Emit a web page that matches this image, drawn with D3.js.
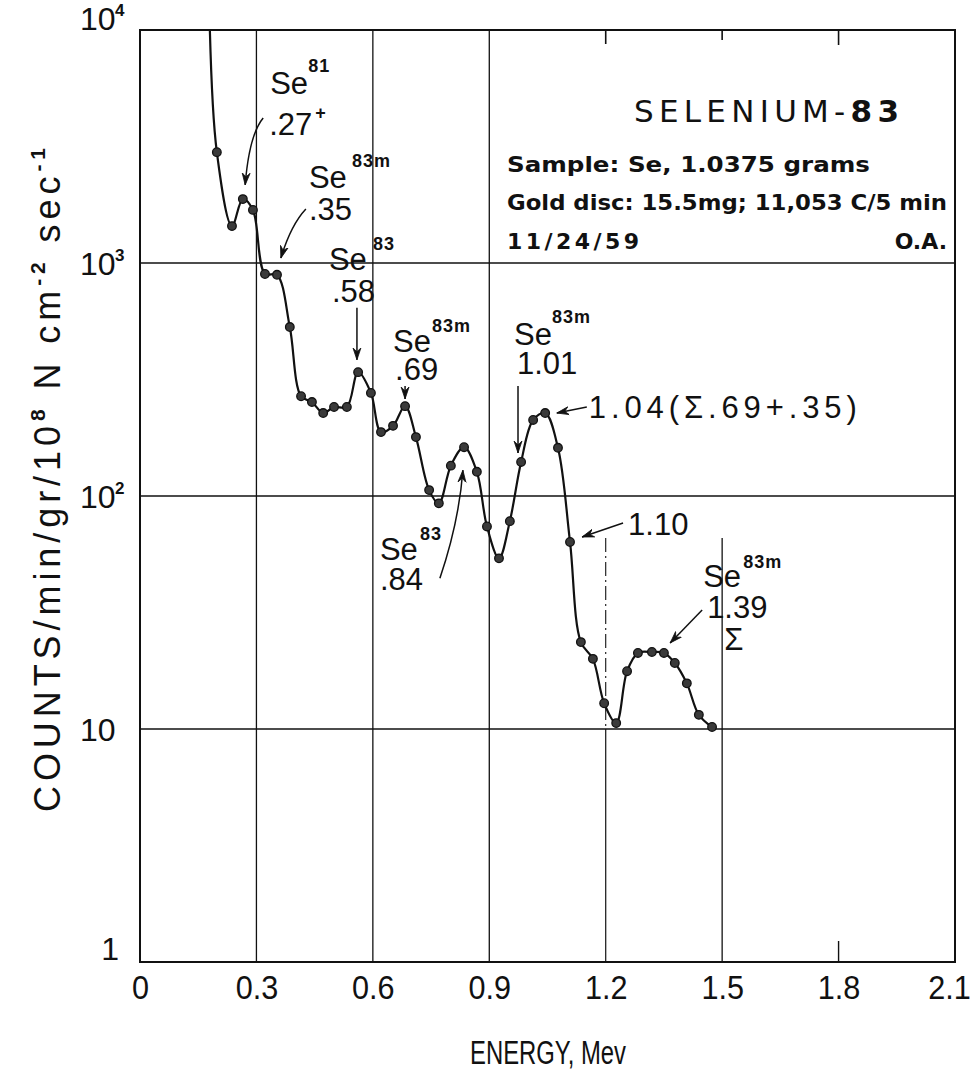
<!DOCTYPE html>
<html>
<head>
<meta charset="utf-8">
<script src="https://cdn.jsdelivr.net/npm/d3@7"></script>
<style>
  html, body { margin: 0; padding: 0; background: #fff; }
  svg { display: block; }
</style>
</head>
<body>
<svg id="chart" width="977" height="1076"></svg>
<script>
// Gamma spectrum of Se-83: energy (MeV) and counts/min/gr/10^8 N cm^-2 sec^-1
const energy = [0.198, 0.237, 0.265, 0.291, 0.322, 0.353, 0.386, 0.415, 0.443, 0.472,
                0.500, 0.533, 0.562, 0.595, 0.621, 0.652, 0.683, 0.711, 0.745, 0.770,
                0.801, 0.835, 0.868, 0.894, 0.925, 0.953, 0.982, 1.013, 1.044, 1.077,
                1.108, 1.136, 1.167, 1.196, 1.227, 1.255, 1.283, 1.319, 1.350, 1.378,
                1.409, 1.440, 1.474];
const counts = [2990, 1440, 1880, 1690, 897, 890, 531, 268, 253, 227,
                241, 241, 340, 277, 188, 200, 243, 179, 106, 93,
                135, 162, 127, 74, 54, 78, 140, 212, 227, 161,
                63.5, 23.6, 20.0, 12.9, 10.6, 17.7, 21.2, 21.4, 21.2, 19.2,
                15.7, 11.5, 10.2];
// the curve enters from above the top of the scale
const curveEntry = { e: 0.18, c: 10000 };

const xTicks = [0, 0.3, 0.6, 0.9, 1.2, 1.5, 1.8, 2.1];
const xTickLabels = ["0", "0.3", "0.6", "0.9", "1.2", "1.5", "1.8", "2.1"];
const yTicks = [1, 10, 100, 1000, 10000];
const yTickExponents = [null, null, "2", "3", "4"];

const svg = d3.select("#chart");
const pLeft = 140, pRight = 955, pTop = 30, pBottom = 962;

const x = d3.scaleLinear().domain([0, 2.1]).range([pLeft, pRight]);
const y = d3.scaleLog().domain([1, 10000]).range([pBottom, pTop]);

const ink = "#111";
const sans = "'Liberation Sans', Arial, sans-serif";

// squeeze a text horizontally to a fraction of its natural width
function narrow(sel, k) {
  sel.each(function () {
    const w = this.getComputedTextLength();
    d3.select(this).attr("textLength", w * k).attr("lengthAdjust", "spacingAndGlyphs");
  });
}

// ---- grid ----
const grid = svg.append("g").attr("stroke", ink).attr("fill", "none");
[10, 100, 1000].forEach(v => {
  grid.append("line").attr("x1", pLeft).attr("x2", pRight)
    .attr("y1", y(v)).attr("y2", y(v)).attr("stroke-width", 1.4);
});
[0.3, 0.6, 0.9].forEach(e => {
  grid.append("line").attr("x1", x(e)).attr("x2", x(e))
    .attr("y1", pTop).attr("y2", pBottom).attr("stroke-width", 1.3);
});
// 1.2: dash-dot above 10, solid below
grid.append("line").attr("x1", x(1.2)).attr("x2", x(1.2))
  .attr("y1", y(66)).attr("y2", y(10)).attr("stroke-width", 1.1)
  .attr("stroke-dasharray", "14,4,2,4");
grid.append("line").attr("x1", x(1.2)).attr("x2", x(1.2))
  .attr("y1", y(10)).attr("y2", pBottom).attr("stroke-width", 1.2);
// 1.5: solid from under the 1.39 note to the bottom
grid.append("line").attr("x1", x(1.5)).attr("x2", x(1.5))
  .attr("y1", y(66)).attr("y2", pBottom).attr("stroke-width", 1.3);
// short ticks along the top edge
[[1.2, 14], [1.5, 10], [1.8, 15]].forEach(([e, len]) => {
  grid.append("line").attr("x1", x(e)).attr("x2", x(e))
    .attr("y1", pTop).attr("y2", pTop + len).attr("stroke-width", 1.6);
});
// short tick on the bottom edge at 1.8
grid.append("line").attr("x1", x(1.8)).attr("x2", x(1.8))
  .attr("y1", pBottom - 21).attr("y2", pBottom).attr("stroke-width", 1.4);

// ---- frame ----
svg.append("rect").attr("x", pLeft).attr("y", pTop)
  .attr("width", pRight - pLeft).attr("height", pBottom - pTop)
  .attr("fill", "none").attr("stroke", ink).attr("stroke-width", 2);

// ---- x axis ----
const xAxis = d3.axisBottom(x).tickValues(xTicks).tickSize(0)
  .tickFormat((d, i) => xTickLabels[i]);
const gx = svg.append("g").attr("transform", `translate(0,${pBottom})`).call(xAxis);
gx.select(".domain").remove();
gx.selectAll("text")
  .attr("y", 37).attr("dy", 0)
  .attr("font-family", sans)
  .attr("font-size", 34).attr("fill", ink)
  .call(narrow, 0.9);
// the last label sits against the page edge
gx.selectAll(".tick").filter(d => d === 2.1).select("text").attr("x", -6);

// ---- y tick labels ----
const yLab = svg.append("g").attr("font-family", sans).attr("fill", ink);
yTicks.forEach((v, i) => {
  let base = y(v) + 12;
  if (v === 10000) base = pTop;
  if (v === 1) base = pBottom - 2;
  if (v === 1) {
    yLab.append("text").attr("x", 119).attr("y", base).attr("text-anchor", "end")
      .attr("font-size", 32).text("1");
    return;
  }
  yLab.append("text").attr("x", 80).attr("y", base).attr("font-size", 32).text("10");
  if (yTickExponents[i]) {
    yLab.append("text").attr("x", 115).attr("y", base - 14).attr("font-size", 17)
      .attr("font-weight", "bold").text(yTickExponents[i]);
  }
});

// ---- axis titles ----
svg.append("text").attr("x", 548).attr("y", 1064).attr("text-anchor", "middle")
  .attr("font-family", sans)
  .attr("font-size", 33).attr("fill", ink)
  .attr("textLength", 156).attr("lengthAdjust", "spacingAndGlyphs")
  .text("ENERGY, Mev");

const yt = svg.append("text")
  .attr("transform", "translate(60,480) rotate(-90)")
  .attr("text-anchor", "middle")
  .attr("font-family", sans)
  .attr("font-size", 36).attr("fill", ink)
  .attr("textLength", 664).attr("lengthAdjust", "spacing");
yt.append("tspan").text("COUNTS/min/gr/10");
yt.append("tspan").attr("dy", -15).attr("font-size", 21).attr("font-weight", "bold").text("8");
yt.append("tspan").attr("dy", 15).text(" N cm");
yt.append("tspan").attr("dy", -15).attr("font-size", 21).attr("font-weight", "bold").text("-2");
yt.append("tspan").attr("dy", 15).text(" sec");
yt.append("tspan").attr("dy", -15).attr("font-size", 21).attr("font-weight", "bold").text("-1");

// ---- spectrum curve ----
svg.append("clipPath").attr("id", "plotClip").append("rect")
  .attr("x", pLeft).attr("y", pTop).attr("width", pRight - pLeft).attr("height", pBottom - pTop);

const pts = energy.map((e, i) => ({ e, c: counts[i] }));
const line = d3.line().x(d => x(d.e)).y(d => y(d.c)).curve(d3.curveCatmullRom.alpha(0.5));
svg.append("path").datum([curveEntry, ...pts])
  .attr("clip-path", "url(#plotClip)")
  .attr("d", line).attr("fill", "none").attr("stroke", ink).attr("stroke-width", 2.2);

svg.append("g").selectAll("circle").data(pts).join("circle")
  .attr("cx", d => x(d.e)).attr("cy", d => y(d.c)).attr("r", 4.3)
  .attr("fill", "#3a3a3a").attr("stroke", ink).attr("stroke-width", 1.3);

// ---- peak annotations ----
svg.append("defs").append("marker").attr("id", "arrow")
  .attr("viewBox", "-12 -5 14 10").attr("refX", 0).attr("refY", 0)
  .attr("markerWidth", 14).attr("markerHeight", 10).attr("markerUnits", "userSpaceOnUse")
  .attr("orient", "auto")
  .append("path").attr("d", "M0,0 L-12,-4 L-8,0 L-12,4 Z")
  .attr("fill", ink).attr("stroke", ink).attr("stroke-width", 0.8);

// tip in data units; tail, control and label offsets in pixels from the tip
const notes = [
  { tip: [0.271, 2163], tail: [18, -67], ctrl: [4, -50],
    texts: [["Se", 25, -91], ["81", 63, -113, "sup"], [".27", 24, -50], ["+", 70, -66, "sup"]] },
  { tip: [0.363, 1050], tail: [25, -49], ctrl: [10, -33],
    texts: [["Se", 28, -70], ["83m", 71, -91, "sup"], [".35", 28, -38]] },
  { tip: [0.559, 384], tail: [0, -52],
    texts: [["Se", -28, -90], ["83", 16, -110, "sup"], [".58", -25, -58]] },
  { tip: [0.683, 261], tail: [0, -13],
    texts: [["Se", -12, -47], ["83m", 27, -67, "sup"], [".69", -10, -19]] },
  { tip: [0.832, 129], tail: [-23, 108], ctrl: [-4, 52],
    texts: [["Se", -83, 90], ["83", -43, 70, "sup"], [".84", -83, 120]] },
  { tip: [0.974, 153], tail: [0, -67],
    texts: [["Se", -4, -108], ["83m", 34, -130, "sup"], ["1.01", -1, -79]] },
  { tip: [1.074, 227], tail: [30, -6],
    texts: [["1.04(Σ.69+.35)", 32, 5, "wide"]] },
  { tip: [1.139, 66.7], tail: [41, -14],
    texts: [["1.10", 46, -2]] },
  { tip: [1.366, 23.4], tail: [32, -33],
    texts: [["Se", 33, -56], ["83m", 73, -75, "sup"], ["1.39", 37, -25], ["Σ", 54, 7]] }
];

const ng = svg.append("g").attr("font-family", sans).attr("fill", ink);
notes.forEach(n => {
  const tx = x(n.tip[0]), ty = y(n.tip[1]);
  const sx = tx + n.tail[0], sy = ty + n.tail[1];
  const p = d3.path();
  p.moveTo(sx, sy);
  if (n.ctrl) p.quadraticCurveTo(tx + n.ctrl[0], ty + n.ctrl[1], tx, ty);
  else p.lineTo(tx, ty);
  ng.append("path").attr("d", p.toString()).attr("fill", "none")
    .attr("stroke", ink).attr("stroke-width", 1.5).attr("marker-end", "url(#arrow)");
  n.texts.forEach(([s, dx, dy, kind]) => {
    const t = ng.append("text").attr("x", tx + dx).attr("y", ty + dy).text(s);
    if (kind === "sup") {
      t.attr("font-size", 18).attr("font-weight", "bold").attr("letter-spacing", 1);
    } else if (kind === "wide") {
      t.attr("font-size", 31).attr("textLength", 268).attr("lengthAdjust", "spacing");
    } else {
      t.attr("font-size", 31);
    }
  });
});

// ---- sample information ----
const info = svg.append("g").attr("font-family", "'DejaVu Sans', sans-serif").attr("fill", ink);
const title = info.append("text").attr("x", 634).attr("y", 122)
  .attr("font-size", 31).attr("textLength", 265).attr("lengthAdjust", "spacing");
title.append("tspan").text("SELENIUM-");
title.append("tspan").attr("font-weight", "bold").text("83");
info.append("text").attr("x", 507).attr("y", 172).attr("font-size", 22).attr("font-weight", "bold")
  .attr("textLength", 363).attr("lengthAdjust", "spacingAndGlyphs").text("Sample:  Se, 1.0375 grams");
info.append("text").attr("x", 507).attr("y", 210).attr("font-size", 22).attr("font-weight", "bold")
  .attr("textLength", 440).attr("lengthAdjust", "spacingAndGlyphs").text("Gold disc: 15.5mg; 11,053 C/5 min");
info.append("text").attr("x", 507).attr("y", 249).attr("font-size", 22).attr("font-weight", "bold")
  .attr("textLength", 132).attr("lengthAdjust", "spacing").text("11/24/59");
info.append("text").attr("x", 947).attr("y", 249).attr("font-size", 22).attr("font-weight", "bold")
  .attr("text-anchor", "end").text("O.A.");
</script>
</body>
</html>
